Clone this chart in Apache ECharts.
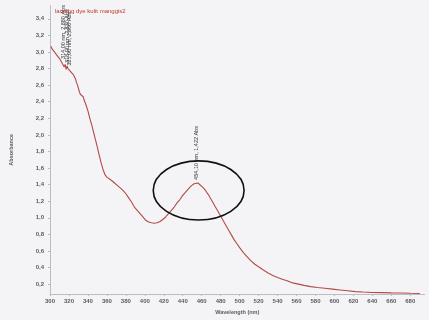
<!DOCTYPE html>
<html>
<head>
<meta charset="utf-8">
<script src="https://cdn.jsdelivr.net/npm/echarts@6/dist/echarts.min.js"></script>
<style>
  html, body { margin: 0; padding: 0; background: #f4f4f7; }
  #chart { width: 429px; height: 320px; }
</style>
</head>
<body>
<div id="chart"></div>
<script>
// UV-Vis absorbance spectrum: wavelength (nm) vs absorbance
const wavelengths = [
  301, 302, 303, 304, 305, 306, 307, 308, 309, 310,
  311, 312, 313, 314, 315, 316, 317, 318, 319, 320,
  321, 322, 323, 324, 325, 326, 327, 328, 329, 330,
  331, 332, 333, 334, 335, 336, 338, 340, 342, 344,
  346, 348, 350, 352, 354, 356, 358, 360, 362, 365,
  368, 371, 374, 377, 380, 383, 386, 389, 392, 395,
  398, 401, 404, 407, 410, 413, 416, 419, 422, 425,
  428, 431, 434, 437, 440, 443, 446, 449, 452, 454.1,
  456, 458, 461, 464, 467, 470, 473, 476, 479, 482,
  485, 488, 491, 494, 497, 500, 504, 508, 512, 516,
  520, 525, 530, 535, 540, 545, 550, 556, 562, 568,
  575, 582, 590, 598, 606, 614, 622, 630, 640, 650,
  660, 670, 680, 690
];
const absorbance = [
  3.07, 3.04, 3.05, 3.01, 3.02, 2.98, 2.99, 2.95, 2.96, 2.92,
  2.90, 2.92, 2.86, 2.88, 2.82, 2.85, 2.79, 2.83, 2.80, 2.78,
  2.80, 2.76, 2.77, 2.74, 2.72, 2.70, 2.67, 2.63, 2.60, 2.56,
  2.52, 2.49, 2.50, 2.47, 2.46, 2.42, 2.36, 2.29, 2.20, 2.12,
  2.03, 1.94, 1.85, 1.75, 1.66, 1.58, 1.52, 1.49, 1.47, 1.45,
  1.42, 1.39, 1.36, 1.33, 1.29, 1.24, 1.19, 1.13, 1.09, 1.05,
  1.01, 0.97, 0.95, 0.94, 0.935, 0.94, 0.955, 0.98, 1.01, 1.05,
  1.09, 1.13, 1.18, 1.22, 1.27, 1.31, 1.35, 1.385, 1.41, 1.422,
  1.42, 1.405, 1.37, 1.33, 1.28, 1.22, 1.16, 1.10, 1.04, 0.98,
  0.92, 0.86, 0.80, 0.74, 0.69, 0.64, 0.58, 0.53, 0.48, 0.44,
  0.41, 0.37, 0.335, 0.305, 0.28, 0.26, 0.24, 0.215, 0.20, 0.185,
  0.17, 0.16, 0.15, 0.14, 0.13, 0.12, 0.11, 0.105, 0.10, 0.098,
  0.095, 0.093, 0.09, 0.088
];
// picked peaks
const peakNm = [314, 318, 321, 454.1];
const peakAbs = [2.88, 2.83, 2.80, 1.422];
// tick labels
const xTicks = [300, 320, 340, 360, 380, 400, 420, 440, 460, 480, 500,
  520, 540, 560, 580, 600, 620, 640, 660, 680];
const yTicks = [0.2, 0.4, 0.6, 0.8, 1.0, 1.2, 1.4, 1.6, 1.8, 2.0, 2.2,
  2.4, 2.6, 2.8, 3.0, 3.2, 3.4];

const comma = (v, d) => v.toFixed(d).replace('.', ',');

const chart = echarts.init(document.getElementById('chart'));
const axisGrey = '#b9bdc9';
const labelFont = { fontSize: 6, fontWeight: 'bold', color: '#5a5a62', fontFamily: 'Liberation Sans' };

chart.setOption({
  backgroundColor: '#f4f4f7',
  animation: false,
  title: {
    text: 'landing dye kulit manggis2',
    left: 50, top: 3,
    textStyle: { fontSize: 6, fontWeight: 'normal', color: '#c0392b', fontFamily: 'Liberation Sans' }
  },
  grid: { left: 48, right: 4.5, top: 5.5, bottom: 22 },
  xAxis: {
    type: 'value', min: 300, max: 695,
    name: 'Wavelength (nm)', nameLocation: 'middle', nameGap: 14,
    nameTextStyle: Object.assign({}, labelFont, { fontSize: 5.5 }),
    axisLine: { lineStyle: { color: axisGrey } },
    axisTick: { length: 2, lineStyle: { color: axisGrey }, customValues: xTicks },
    axisLabel: Object.assign({}, labelFont, { margin: 4, customValues: xTicks, formatter: v => String(v) }),
    splitLine: { show: false }
  },
  yAxis: {
    type: 'value', min: 0.08, max: 3.56,
    name: 'Absorbance', nameLocation: 'middle', nameGap: 36,
    nameTextStyle: Object.assign({}, labelFont, { fontSize: 5.5 }),
    axisLine: { show: true, lineStyle: { color: axisGrey } },
    axisTick: { show: true, length: 2, lineStyle: { color: axisGrey }, customValues: yTicks },
    axisLabel: Object.assign({}, labelFont, { margin: 6, customValues: yTicks, formatter: v => comma(v, 1) }),
    splitLine: { show: false }
  },
  series: [{
    type: 'line',
    data: wavelengths.map((w, i) => [w, absorbance[i]]),
    showSymbol: false,
    lineStyle: { color: '#b34a46', width: 1.1 },
    markPoint: {
      symbol: 'circle', symbolSize: 0,
      data: peakNm.map((w, i) => ({
        coord: [w, peakAbs[i]],
        label: {
          show: true,
          formatter: comma(w, 2) + ' nm, ' + comma(peakAbs[i], 3) + ' Abs'
        }
      })),
      label: {
        position: 'top', distance: 3, rotate: 90,
        align: 'left', verticalAlign: 'middle',
        fontSize: 5.5, color: '#2e2e34', fontFamily: 'Liberation Sans'
      }
    }
  }]
});

// hand-drawn ring around the visible band
const c = chart.convertToPixel({ gridIndex: 0 }, [456.8, 1.33]);
const e = chart.convertToPixel({ gridIndex: 0 }, [456.8 + 47.9, 1.33 - 0.357]);
chart.setOption({
  graphic: [{
    type: 'ellipse',
    shape: { cx: c[0], cy: c[1], rx: e[0] - c[0], ry: e[1] - c[1] },
    style: { fill: 'none', stroke: '#111', lineWidth: 1.6 },
    z: 100
  }]
});
</script>
</body>
</html>
